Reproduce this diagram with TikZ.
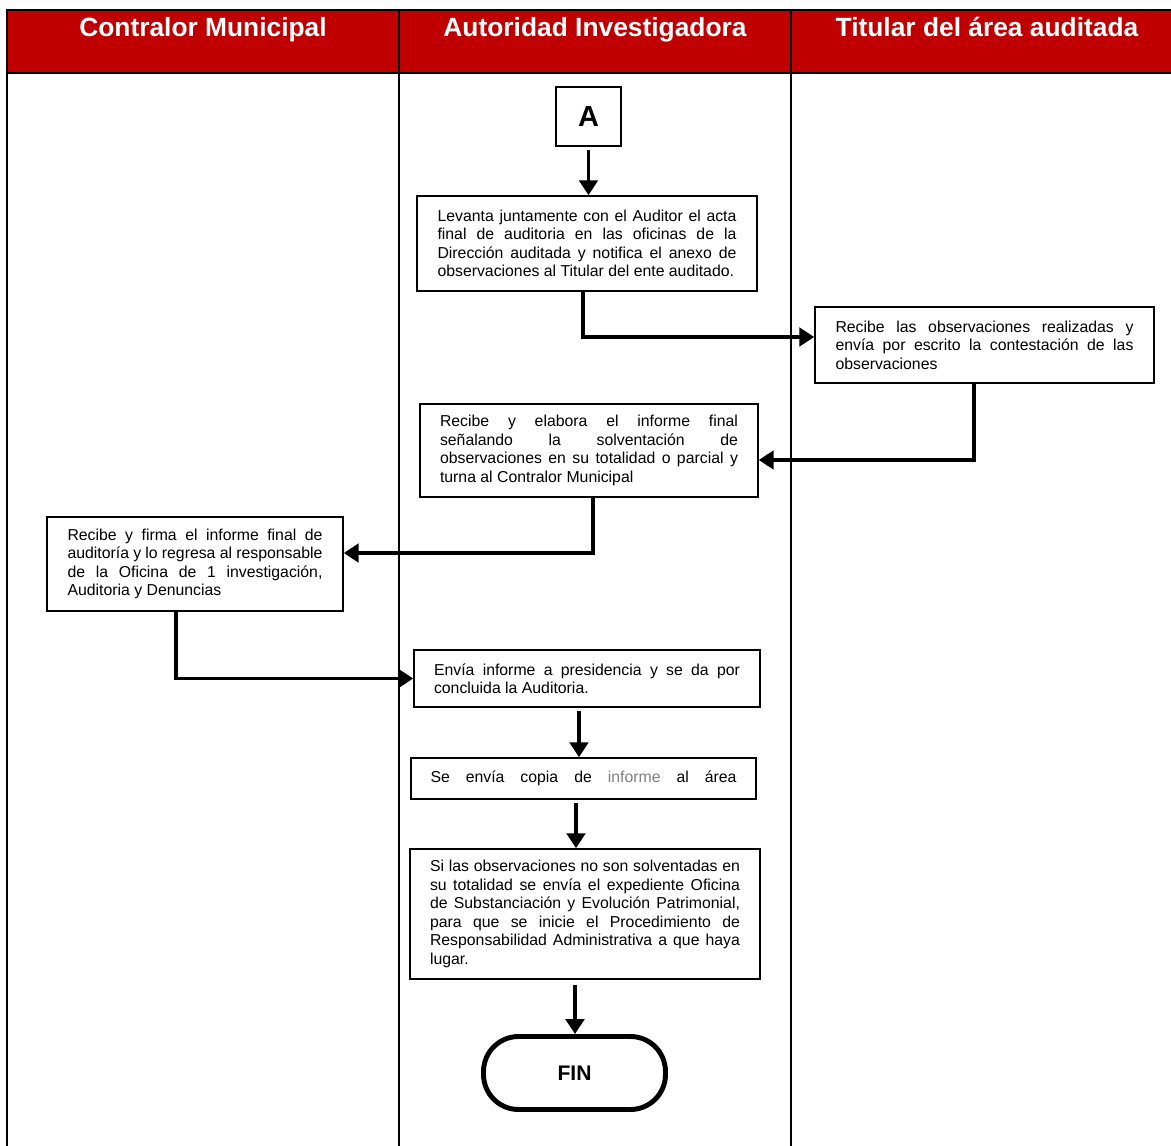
\documentclass[tikz,border=0pt]{standalone}
\usepackage{fontspec}
\setmainfont{Liberation Sans}
\usepackage{xcolor}
\usetikzlibrary{arrows.meta, positioning}
\definecolor{rojoenc}{HTML}{C00000}
\hyphenpenalty=10000

\begin{document}
\begin{tikzpicture}[x=0.02cm, y=-0.02cm, >={Triangle[length=8.5pt,width=10.5pt]},
  caja/.style={draw, line width=0.9pt, fill=white, align=justify, inner sep=0pt,
    font=\fontsize{9}{10.5}\selectfont},
  flecha/.style={->, line width=2.1pt},
  enc/.style={text=white, font=\fontsize{15}{18}\selectfont\bfseries, anchor=base}]

  \useasboundingbox (0,0) rectangle (1171,1146);

  % Header band and lanes
  \fill[rojoenc] (7,10) rectangle (1171,73);
  \draw[line width=1.2pt] (1171,10) -- (7,10) -- (7,1146);
  \draw[line width=1.2pt] (7,73) -- (1171,73);
  \foreach \x in {399, 791} {
    \draw[line width=1.2pt] (\x,10) -- (\x,1146);
  }
  \node[enc] (h1) at (203,36) {Contralor Municipal};
  \node[enc] (h2) at (595,36) {Autoridad Investigadora};
  \node[enc] (h3) at (987,36) {Titular del área auditada};

  % Connector A
  \node[draw, line width=0.9pt, minimum width=1.3cm, minimum height=1.18cm,
    font=\fontsize{16.5}{18}\selectfont\bfseries] (ini) at (588.5,116.5) {A};

  % --- Steps ---
  \node[caja, text width=5.98cm, minimum width=6.8cm, minimum height=1.9cm] (acta) at (587,243.5)
    {Levanta juntamente con el Auditor el acta\linebreak final de auditoria en las oficinas de la\linebreak Dirección auditada y notifica el anexo de\linebreak observaciones al Titular del ente auditado.};
  \node[caja, text width=5.96cm, minimum width=6.78cm, minimum height=1.52cm] (resp) at (984.5,345)
    {Recibe las observaciones realizadas y\linebreak envía por escrito la contestación de las\linebreak observaciones};
  \node[caja, text width=5.96cm, minimum width=6.76cm, minimum height=1.86cm] (inf) at (589,450.5)
    {Recibe y elabora el informe final\linebreak señalando la solventación de\linebreak observaciones en su totalidad o parcial y\linebreak turna al Contralor Municipal};
  \node[caja, text width=5.1cm, minimum width=5.92cm, minimum height=1.88cm] (firma) at (195,564)
    {Recibe y firma el informe final de\linebreak auditoría y lo regresa al responsable\linebreak de la Oficina de 1 investigación,\linebreak Auditoria y Denuncias};
  \node[caja, text width=6.12cm, minimum width=6.92cm, minimum height=1.14cm] (envio) at (587,678.5)
    {Envía informe a presidencia y se da por\linebreak concluida la Auditoria.};
  \node[caja, text width=6.12cm, minimum width=6.9cm, minimum height=0.82cm] (copia) at (583.5,778.5)
    {\makebox[6.12cm][s]{Se envía copia de \textcolor{gray}{informe} al área}};
  \node[caja, text width=6.2cm, minimum width=7.0cm, minimum height=2.6cm] (exp) at (585,914)
    {Si las observaciones no son solventadas en\linebreak su totalidad se envía el expediente Oficina\linebreak de Substanciación y Evolución Patrimonial,\linebreak para que se inicie el Procedimiento de\linebreak Responsabilidad Administrativa a que haya\linebreak lugar.};

  % End
  \node[draw, line width=2.8pt, rounded corners=0.7cm, minimum width=3.64cm, minimum height=1.46cm,
    font=\fontsize{12}{12}\selectfont\bfseries] (fin) at (574.5,1073) {FIN};

  % --- Flow ---
  \draw[flecha, shorten <=2pt] (ini) -- (ini |- acta.north);
  \draw[flecha] ([xshift=-0.08cm]acta.south) |- ([yshift=0.16cm]resp.west);
  \draw[flecha] ([xshift=-0.21cm]resp.south) |- ([yshift=-0.19cm]inf.east);
  \draw[flecha] ([xshift=0.08cm]inf.south) |- ([yshift=0.22cm]firma.east);
  \draw[flecha] ([xshift=-0.38cm]firma.south) |- (envio.west);
  \draw[flecha, shorten <=2pt] ([xshift=-0.16cm]envio.south) -- ([xshift=-0.16cm]envio.south |- copia.north);
  \draw[flecha, shorten <=2pt] ([xshift=-0.15cm]copia.south) -- ([xshift=-0.15cm]copia.south |- exp.north);
  \draw[flecha, shorten <=3pt] ([xshift=-0.2cm]exp.south) -- ([xshift=-0.2cm]exp.south |- fin.north);
\end{tikzpicture}
\end{document}
